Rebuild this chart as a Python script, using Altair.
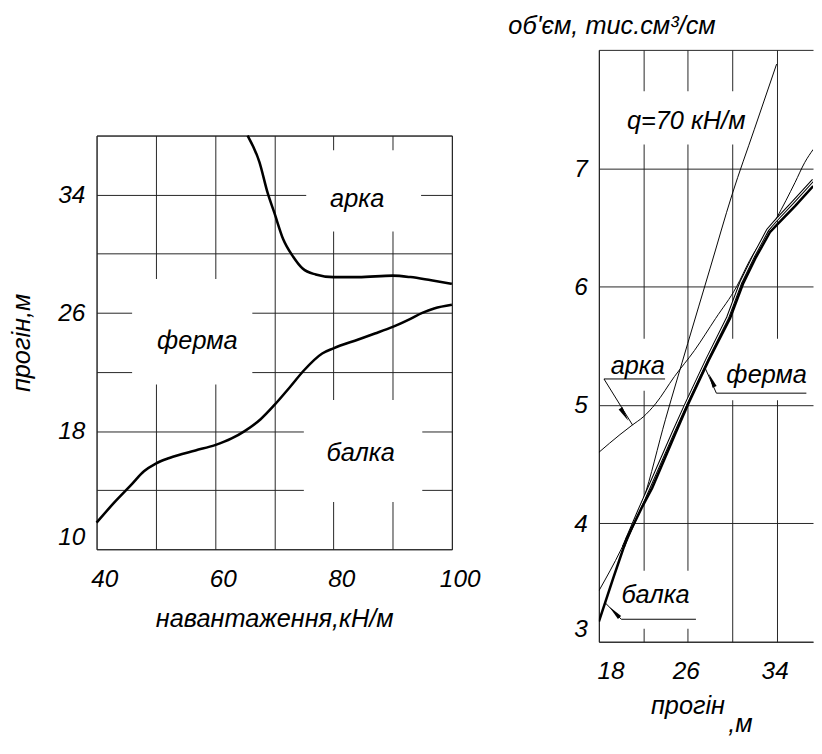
import altair as alt
import pandas as pd

FONT = "Liberation Sans"
FS = 26      # titles and annotations
FS_TICK = 25  # tick labels

# ---------------- left panel: span vs load ----------------
load_upper = [65.5, 67.5, 68.9, 70.0, 71.5, 73.2, 74.8, 77.0, 80.0, 84.2, 90.0, 93.0, 96.5, 100.0]
span_upper = [38.0, 36.2, 34.1, 32.8, 31.0, 29.8, 29.0, 28.6, 28.42, 28.42, 28.52, 28.42, 28.2, 27.97]
load_lower = [40.0, 43.0, 45.8, 48.0, 50.0, 52.3, 56.7, 60.0, 62.8, 65.0, 67.7, 70.0, 72.7, 75.0,
              78.1, 80.0, 84.2, 87.0, 90.0, 93.0, 95.0, 97.0, 100.0]
span_lower = [11.8, 13.17, 14.34, 15.28, 15.8, 16.18, 16.69, 17.05, 17.5, 18.0, 18.8, 19.75, 21.0, 22.1,
              23.25, 23.6, 24.2, 24.6, 25.05, 25.6, 26.0, 26.3, 26.55]
left_x_grid = [40, 50, 60, 70, 80, 90, 100]
left_y_grid = [10, 14, 18, 22, 26, 30, 34, 38]
left_labels = ["арка", "ферма", "балка"]
left_label_x = [84.0, 57.0, 84.6]
left_label_y = [33.7, 24.1, 16.5]
left_box_x1 = [75.4, 46.0, 75.0]
left_box_x2 = [94.8, 66.3, 95.0]
left_box_y1 = [31.5, 21.15, 13.2]
left_box_y2 = [37.0, 28.3, 20.1]

# ---------------- right panel: volume vs span ----------------
span_arch = [18.0, 19.9, 21.0, 22.0, 23.1, 24.8, 26.6, 28.5, 30.4, 31.57, 34.0, 35.66, 36.54, 37.3]
vol_arch = [4.60, 4.75, 4.83, 4.90, 5.01, 5.24, 5.46, 5.73, 6.0, 6.22, 6.58, 6.88, 7.05, 7.16]
span_q = [18.0, 20.0, 22.0, 24.0, 26.0, 28.0, 30.0, 32.0, 34.0]
vol_q = [3.43, 3.78, 4.20, 4.88, 5.52, 6.15, 6.78, 7.33, 7.88]
span_beam = [18.0, 19.3, 20.5, 21.9, 22.8, 24.85, 26.0, 27.9, 29.8, 31.0, 32.15, 33.4, 34.0, 35.66, 37.3]
vol_beam = [3.17, 3.54, 3.87, 4.14, 4.30, 4.75, 5.0, 5.38, 5.73, 6.03, 6.25, 6.46, 6.52, 6.68, 6.85]
span_truss = [20.2, 21.7, 22.6, 24.7, 25.85, 27.75, 29.6, 30.8, 31.95, 33.2, 33.85, 35.55, 37.3]
vol_truss = [3.80, 4.13, 4.32, 4.77, 5.01, 5.39, 5.74, 6.04, 6.26, 6.48, 6.55, 6.72, 6.90]
right_x_grid = [18, 22, 26, 30, 34]
right_y_grid = [3, 4, 5, 6, 7, 8]
right_labels = ["q=70 кН/м", "арка", "ферма", "балка"]
right_label_x = [25.86, 21.5, 33.1, 23.1]
right_label_y = [7.40, 5.33, 5.25, 3.39]
right_box_x1 = [20.4, 18.4, 28.5, 19.7]
right_box_x2 = [31.3, 24.1, 37.25, 27.0]
right_box_y1 = [7.2, 5.12, 5.04, 3.11]
right_box_y2 = [7.65, 5.56, 5.56, 3.6]
under_x1 = [18.46, 28.58, 20.02]
under_x2 = [23.96, 36.68, 26.74]
under_y = [5.22, 5.10, 3.19]
tip_x = [21.04, 27.53, 18.56]
tip_y = [4.83, 5.32, 3.33]
arrow_x = [20.3, 28.15, 19.4]
arrow_y = [4.92, 5.21, 3.25]
unit_text = [",м"]
unit_x = [30.75]
unit_y = [2.24]

ARROW = "M0,-1L0.3,1L-0.3,1Z"


def lx():
    return alt.X("x", type="quantitative",
                 scale=alt.Scale(domain=[40, 100], nice=False, zero=False),
                 axis=alt.Axis(values=left_x_grid,
                               labelExpr="datum.value % 20 == 0 ? datum.label : ''",
                               title="навантаження,кН/м", labelFlush=False, labelOffset=8,
                               labelPadding=18, titleY=79, titleBaseline="alphabetic"))


def ly():
    return alt.Y("y", type="quantitative",
                 scale=alt.Scale(domain=[10, 38], nice=False, zero=False),
                 axis=alt.Axis(values=left_y_grid,
                               labelExpr="(datum.value - 10) % 8 == 0 ? datum.label : ''",
                               title="прогін,м", labelFlush=True, labelPadding=12,
                               titleX=-69, titleBaseline="alphabetic"))


def rx():
    return alt.X("x", type="quantitative",
                 scale=alt.Scale(domain=[18, 37.28], nice=False, zero=False),
                 axis=alt.Axis(values=right_x_grid,
                               labelExpr="(datum.value - 18) % 8 == 0 ? datum.label : ''",
                               title="прогін", labelFlush=True,
                               labelOffset=-2, labelPadding=18, titleX=91, titleY=74,
                               titleBaseline="alphabetic", domain=True))


def ry():
    return alt.Y("y", type="quantitative",
                 scale=alt.Scale(domain=[3, 8], nice=False, zero=False),
                 axis=alt.Axis(values=right_y_grid,
                               labelExpr="datum.value < 8 ? datum.label : ''",
                               title=None, labelFlush=True, labelPadding=12, domain=True))


# ---- left layers
l_boxes = alt.Chart(pd.DataFrame({"x": left_box_x1, "x2": left_box_x2,
                                  "y": left_box_y1, "y2": left_box_y2})).mark_rect(
    color="white", strokeWidth=0).encode(x=lx(), x2="x2", y=ly(), y2="y2")
l_upper = alt.Chart(pd.DataFrame({"x": load_upper, "y": span_upper})).mark_line(
    color="black", strokeWidth=2.6, interpolate="monotone").encode(x=lx(), y=ly())
l_lower = alt.Chart(pd.DataFrame({"x": load_lower, "y": span_lower})).mark_line(
    color="black", strokeWidth=2.6, interpolate="monotone").encode(x=lx(), y=ly())
l_text = alt.Chart(pd.DataFrame({"x": left_label_x, "y": left_label_y, "t": left_labels})).mark_text(
    font=FONT, fontSize=FS, fontStyle="italic", color="black", align="center",
    baseline="middle").encode(x=lx(), y=ly(), text="t")

left = alt.layer(l_boxes, l_upper, l_lower, l_text).properties(width=365, height=425)

# empty spacer that lowers the left panel relative to the right one
spacer = alt.Chart(pd.DataFrame({"v": [0]})).mark_point(opacity=0).properties(
    width=10, height=81, view=alt.ViewBackground(stroke="transparent"))

left_col = alt.vconcat(spacer, left, spacing=0)

# ---- right layers
r_boxes = alt.Chart(pd.DataFrame({"x": right_box_x1, "x2": right_box_x2,
                                  "y": right_box_y1, "y2": right_box_y2})).mark_rect(
    color="white", strokeWidth=0).encode(x=rx(), x2="x2", y=ry(), y2="y2")
r_arch = alt.Chart(pd.DataFrame({"x": span_arch, "y": vol_arch})).mark_line(
    color="black", strokeWidth=1, interpolate="monotone", clip=True).encode(x=rx(), y=ry())
r_q = alt.Chart(pd.DataFrame({"x": span_q, "y": vol_q})).mark_line(
    color="black", strokeWidth=1, interpolate="monotone", clip=True).encode(x=rx(), y=ry())
r_truss_o = alt.Chart(pd.DataFrame({"x": span_truss, "y": vol_truss})).mark_line(
    color="black", strokeWidth=3.2, clip=True).encode(x=rx(), y=ry())
r_truss_i = alt.Chart(pd.DataFrame({"x": span_truss, "y": vol_truss})).mark_line(
    color="white", strokeWidth=1.1, clip=True).encode(x=rx(), y=ry())
r_beam = alt.Chart(pd.DataFrame({"x": span_beam, "y": vol_beam})).mark_line(
    color="black", strokeWidth=2.6, clip=True).encode(x=rx(), y=ry())
r_under = alt.Chart(pd.DataFrame({"x": under_x1, "x2": under_x2, "y": under_y})).mark_rule(
    color="black", strokeWidth=1).encode(x=rx(), x2="x2", y=ry())
r_lead = alt.Chart(pd.DataFrame({"x": under_x1, "x2": tip_x, "y": under_y, "y2": tip_y})).mark_rule(
    color="black", strokeWidth=1).encode(x=rx(), x2="x2", y=ry(), y2="y2")
arrow_angles = [148, 336, 316]
r_arrows = [
    alt.Chart(pd.DataFrame({"x": [arrow_x[i]], "y": [arrow_y[i]]})).mark_point(
        shape=ARROW, filled=True, color="black", opacity=1, size=230, angle=arrow_angles[i],
        strokeWidth=0).encode(x=rx(), y=ry())
    for i in range(3)
]
r_text = alt.Chart(pd.DataFrame({"x": right_label_x, "y": right_label_y, "t": right_labels})).mark_text(
    font=FONT, fontSize=FS, fontStyle="italic", color="black", align="center",
    baseline="middle").encode(x=rx(), y=ry(), text="t")
r_unit = alt.Chart(pd.DataFrame({"x": unit_x, "y": unit_y, "t": unit_text})).mark_text(
    font=FONT, fontSize=FS, fontStyle="italic", color="black", align="center",
    baseline="alphabetic").encode(x=rx(), y=ry(), text="t")

right = alt.layer(r_boxes, r_arch, r_q, r_truss_o, r_truss_i, r_beam, r_under, r_lead,
                  *r_arrows, r_text, r_unit).properties(
    width=220, height=608,
    view=alt.ViewBackground(stroke="transparent"),
    title=alt.TitleParams("об'єм, тис.см³/см", anchor="start", frame="group", dx=-93, offset=-10,
                          fontSize=FS, font=FONT, fontStyle="italic", fontWeight="normal",
                          color="black", baseline="alphabetic"))

chart = alt.hconcat(left_col, right, spacing=27).configure(
    padding={"left": 0, "top": -5, "right": 0, "bottom": -3}
).configure_view(stroke="#333", strokeWidth=1).configure_axis(
    ticks=False, domain=False, domainColor="#222", domainWidth=1,
    grid=True, gridColor="#222", gridOpacity=1, gridWidth=1,
    labelFont=FONT, labelFontSize=FS_TICK, labelFontStyle="italic", labelColor="black",
    titleFont=FONT, titleFontSize=FS, titleFontStyle="italic", titleFontWeight="normal",
    titleColor="black"
)

chart.save("out.html", embed_options={"renderer": "svg", "actions": False})
